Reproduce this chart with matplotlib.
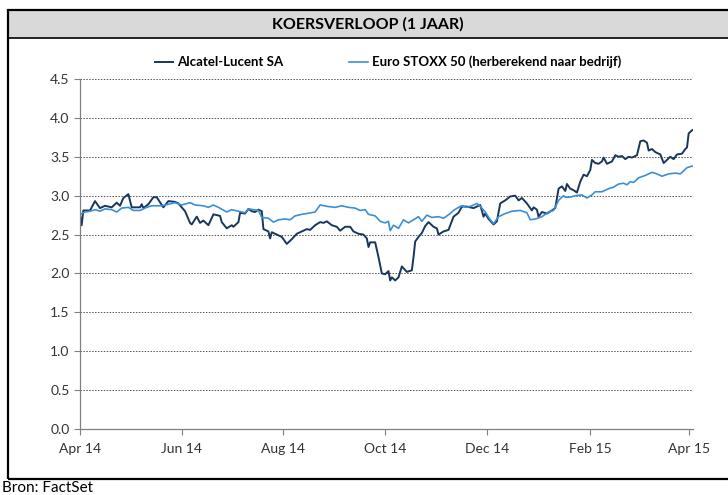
import numpy as np
import pandas as pd
import matplotlib
matplotlib.use("Agg")
import matplotlib.pyplot as plt
import matplotlib.dates as mdates
from matplotlib.patches import Rectangle

# day offsets from 1 Apr 2014 and koers values
alu_days = [0, 1, 2, 6, 9, 12, 15, 19, 22, 24, 26, 29, 31, 36, 37, 38, 41, 44, 46, 50,
            53, 57, 59, 63, 66, 67, 70, 72, 74, 77, 80, 84, 85, 88, 91, 92, 95, 96, 99, 101,
            103, 105, 107, 109, 110, 113, 114, 115, 118, 121, 124, 127, 130, 133, 136, 138, 141, 144, 146, 148,
            151, 154, 156, 159, 162, 164, 167, 170, 172, 173, 174, 177, 179, 181, 183, 185, 186, 187, 189, 191,
            193, 196, 199, 200, 201, 203, 205, 207, 209, 212, 214, 215, 218, 221, 224, 227, 229, 232, 234, 236,
            240, 242, 243, 245, 248, 250, 252, 255, 258, 261, 263, 265, 268, 271, 272, 274, 275, 277, 280, 283,
            285, 287, 289, 291, 292, 294, 296, 298, 300, 302, 304, 306, 307, 309, 311, 313, 314, 316, 319, 321,
            323, 325, 327, 329, 331, 333, 334, 336, 338, 340, 341, 343, 345, 348, 350, 352, 354, 356, 358, 361,
            363, 364, 365, 367, 368]
alu_vals = [2.75, 2.62, 2.81, 2.81, 2.93, 2.84, 2.87, 2.85, 2.91, 2.87, 2.97, 3.02, 2.85, 2.85, 2.89, 2.84, 2.89, 2.98, 2.98, 2.85,
            2.93, 2.92, 2.90, 2.80, 2.65, 2.63, 2.73, 2.65, 2.68, 2.62, 2.76, 2.74, 2.66, 2.58, 2.62, 2.60, 2.66, 2.78, 2.77, 2.83,
            2.80, 2.79, 2.82, 2.80, 2.57, 2.54, 2.45, 2.53, 2.50, 2.47, 2.38, 2.44, 2.51, 2.54, 2.57, 2.56, 2.62, 2.66, 2.65, 2.67,
            2.62, 2.60, 2.55, 2.60, 2.60, 2.54, 2.51, 2.50, 2.45, 2.34, 2.40, 2.40, 2.21, 2.00, 1.99, 2.03, 1.91, 1.95, 1.91, 1.95,
            2.09, 2.02, 2.04, 2.21, 2.41, 2.47, 2.52, 2.61, 2.66, 2.60, 2.58, 2.50, 2.54, 2.56, 2.73, 2.78, 2.86, 2.86, 2.85, 2.84,
            2.88, 2.73, 2.77, 2.70, 2.63, 2.67, 2.90, 2.94, 2.99, 3.00, 2.94, 2.97, 2.90, 2.81, 2.85, 2.82, 2.73, 2.79, 2.77, 2.81,
            2.84, 3.09, 3.12, 3.06, 3.15, 3.09, 3.07, 3.04, 3.18, 3.27, 3.25, 3.33, 3.46, 3.42, 3.41, 3.44, 3.49, 3.41, 3.44, 3.52,
            3.50, 3.51, 3.47, 3.50, 3.49, 3.51, 3.52, 3.70, 3.71, 3.68, 3.58, 3.60, 3.56, 3.53, 3.42, 3.46, 3.50, 3.47, 3.53, 3.54,
            3.60, 3.62, 3.80, 3.84, 3.85]

stoxx_days = [0, 3, 6, 9, 12, 15, 19, 22, 25, 29, 32, 36, 40, 43, 49, 53, 57, 61, 66, 69,
              74, 77, 80, 83, 88, 91, 95, 99, 101, 107, 109, 113, 116, 119, 123, 126, 129, 133, 136, 141,
              144, 149, 153, 157, 161, 165, 168, 171, 173, 177, 180, 183, 185, 186, 188, 191, 194, 197, 200, 203,
              205, 208, 211, 215, 218, 222, 224, 227, 229, 232, 235, 238, 241, 243, 246, 248, 251, 255, 259, 264,
              268, 270, 273, 277, 281, 284, 287, 290, 291, 294, 297, 301, 304, 307, 309, 313, 317, 320, 323, 326,
              328, 330, 332, 335, 339, 343, 346, 349, 353, 357, 360, 362, 364, 367, 368]
stoxx_vals = [2.76, 2.79, 2.80, 2.82, 2.80, 2.83, 2.82, 2.79, 2.84, 2.85, 2.81, 2.81, 2.85, 2.87, 2.87, 2.89, 2.91, 2.88, 2.91, 2.88,
              2.87, 2.85, 2.88, 2.85, 2.79, 2.82, 2.80, 2.78, 2.83, 2.81, 2.72, 2.71, 2.66, 2.69, 2.70, 2.69, 2.74, 2.76, 2.77, 2.79,
              2.88, 2.86, 2.85, 2.87, 2.85, 2.84, 2.81, 2.82, 2.76, 2.74, 2.67, 2.65, 2.67, 2.55, 2.62, 2.58, 2.69, 2.65, 2.69, 2.73,
              2.67, 2.75, 2.72, 2.73, 2.71, 2.77, 2.81, 2.85, 2.87, 2.85, 2.87, 2.90, 2.84, 2.79, 2.69, 2.64, 2.73, 2.77, 2.80, 2.81,
              2.78, 2.69, 2.70, 2.73, 2.79, 2.81, 2.94, 3.00, 2.98, 2.98, 3.00, 3.01, 2.97, 3.01, 3.05, 3.05, 3.09, 3.11, 3.15, 3.16,
              3.14, 3.18, 3.17, 3.23, 3.26, 3.30, 3.28, 3.25, 3.28, 3.29, 3.28, 3.32, 3.36, 3.38, 3.38]

tick_dates = ["2014-04-01", "2014-06-01", "2014-08-01", "2014-10-01",
              "2014-12-01", "2015-02-01", "2015-04-01"]
y_ticks = [0.0, 0.5, 1.0, 1.5, 2.0, 2.5, 3.0, 3.5, 4.0, 4.5]

start = pd.Timestamp("2014-04-01")
alu_dates = start + pd.to_timedelta(alu_days, unit="D")
stoxx_dates = start + pd.to_timedelta(stoxx_days, unit="D")

plt.rcParams['font.family'] = ['Lato', 'DejaVu Sans']

W, H = 728, 495
fig = plt.figure(figsize=(W / 100, H / 100), dpi=100)

# outer frame and grey title band
fig.patches.append(Rectangle((8 / W, (H - 38) / H), 1, 28 / H, transform=fig.transFigure,
                             facecolor='#d9d9d9', edgecolor='none', zorder=0))
fig.patches.append(Rectangle((8 / W, (H - 479) / H), 1.2, (479 - 10) / H, transform=fig.transFigure,
                             facecolor='none', edgecolor='black', linewidth=1.6, zorder=1))
fig.lines.append(plt.Line2D([8 / W, 1], [(H - 38) / H] * 2, transform=fig.transFigure,
                            color='black', linewidth=1.2))
fig.text(368 / W, (H - 24) / H, "KOERSVERLOOP (1 JAAR)", ha='center', va='center',
         fontsize=11.5, fontweight='bold', color='black')
fig.text(2 / W, (H - 488) / H, "Bron: FactSet", ha='left', va='center', fontsize=11, color='black')

ax = fig.add_axes([80 / W, (H - 429) / H, (693 - 80) / W, (429 - 79) / H])
ax.plot(alu_dates, alu_vals, color='#17375e', linewidth=1.4, label='Alcatel-Lucent SA')
ax.plot(stoxx_dates, stoxx_vals, color='#3b8fd4', linewidth=1.2,
        label='Euro STOXX 50 (herberekend naar bedrijf)')

ax.set_ylim(0, 4.5)
ax.set_xlim(start, start + pd.Timedelta(days=367.6))
ax.set_yticks(y_ticks)
ax.set_yticklabels([f"{v:.1f}" for v in y_ticks])
ax.set_xticks(pd.to_datetime(tick_dates))
ax.xaxis.set_major_formatter(mdates.DateFormatter('%b %y'))
ax.grid(axis='y', color='#555555', linestyle=(0, (1.5, 1.5)), linewidth=0.7)
ax.set_axisbelow(True)
for s in ['top', 'right']:
    ax.spines[s].set_visible(False)
for s in ['left', 'bottom']:
    ax.spines[s].set_color('#808080')
    ax.spines[s].set_linewidth(0.9)
ax.tick_params(axis='both', colors='#808080', labelcolor='#333333', labelsize=10, length=4)
ax.tick_params(axis='x', pad=6)

ax.legend(loc='center', bbox_to_anchor=(0.502, 1 + 17 / 350), ncol=2, frameon=False,
          handlelength=1.4, handletextpad=0.3, columnspacing=5, prop={'size': 9.5, 'weight': 'bold'})

fig.savefig("out.png", dpi=100)
